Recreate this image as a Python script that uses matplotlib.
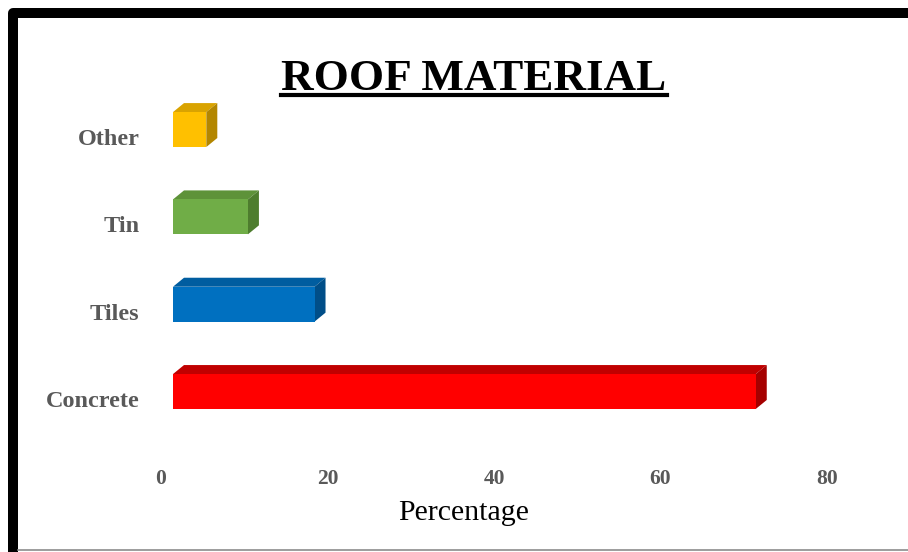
import matplotlib
matplotlib.use("Agg")
import matplotlib.pyplot as plt
from matplotlib.patches import Rectangle, Polygon
from matplotlib.lines import Line2D
from matplotlib.transforms import ScaledTranslation

plt.rcParams['font.family'] = ['Liberation Serif', 'DejaVu Serif']

# data
categories = ["Concrete", "Tiles", "Tin", "Other"]
values = [70, 17, 9, 4]
front_colors = ["#FF0000", "#0070C0", "#70AD47", "#FFC000"]
top_colors = ["#C00000", "#005DA0", "#5E9239", "#D9A300"]
side_colors = ["#A50000", "#004E88", "#4E7D2E", "#B38600"]
x_ticks = [0, 20, 40, 60, 80]

W, H = 908, 552
fig = plt.figure(figsize=(W / 100, H / 100), dpi=100)

# axes placed so that 0 -> px 173, 80 -> px 839
ax = fig.add_axes([173 / W, 0.180, 666 / W, 0.6644])
ax.set_xlim(0, 80)
ax.set_ylim(-0.7, 3.5)
for s in ax.spines.values():
    s.set_visible(False)

# 3D depth in data units (about 11 px right, 9 px up)
dx = 11 * 80 / 666
dy = 9 / 87.33
h = 0.4

for i, (v, fc, tc, sc) in enumerate(zip(values, front_colors, top_colors, side_colors)):
    y0, y1 = i - h / 2, i + h / 2
    top = Polygon([(0, y1), (v, y1), (v + dx, y1 + dy), (dx, y1 + dy)],
                  closed=True, facecolor=tc, edgecolor="none", clip_on=False)
    side = Polygon([(v, y0), (v + dx, y0 + dy), (v + dx, y1 + dy), (v, y1)],
                   closed=True, facecolor=sc, edgecolor="none", clip_on=False)
    front = Rectangle((0, y0), v, h, facecolor=fc, edgecolor="none", clip_on=False)
    ax.add_patch(top)
    ax.add_patch(side)
    ax.add_patch(front)

ax.set_yticks(range(len(categories)))
ax.set_yticklabels(categories, fontsize=17.5, fontweight="bold", color="#595959")
ax.set_xticks(x_ticks)
ax.set_xticklabels([str(t) for t in x_ticks], fontsize=15.5, fontweight="bold", color="#595959")
ax.tick_params(axis="y", length=0, pad=24)
ax.tick_params(axis="x", length=0, pad=12)

for lab in ax.get_yticklabels():
    lab.set_transform(lab.get_transform() + ScaledTranslation(0, -7.5 / 100, fig.dpi_scale_trans))
for lab in ax.get_xticklabels():
    lab.set_transform(lab.get_transform() + ScaledTranslation(-12 / 100, 0, fig.dpi_scale_trans))

fig.text(464 / W, 1 - 513 / H, "Percentage", fontsize=21.5, ha="center", va="center", color="black")

title = fig.text(474 / W, 1 - 90 / H, "ROOF MATERIAL", fontsize=32.5, fontweight="bold",
                 ha="center", va="baseline", color="black")

# underline the title
fig.canvas.draw()
bb = title.get_window_extent().transformed(fig.transFigure.inverted())
fig.add_artist(Line2D([bb.x0, bb.x1], [1 - 95 / H, 1 - 95 / H], color="black", lw=3,
                      transform=fig.transFigure))

# frame: thick black top/left, thin grey bottom
fig.add_artist(Line2D([13 / W, 13 / W, 1.0], [0.0, 1 - 13 / H, 1 - 13 / H], color="black",
                      lw=7.2, solid_joinstyle="round", transform=fig.transFigure))
fig.add_artist(Line2D([18 / W, 1.0], [1 - 549.5 / H, 1 - 549.5 / H], color="#8c8c8c",
                      lw=1.2, transform=fig.transFigure))

fig.savefig("out.png", dpi=100)
